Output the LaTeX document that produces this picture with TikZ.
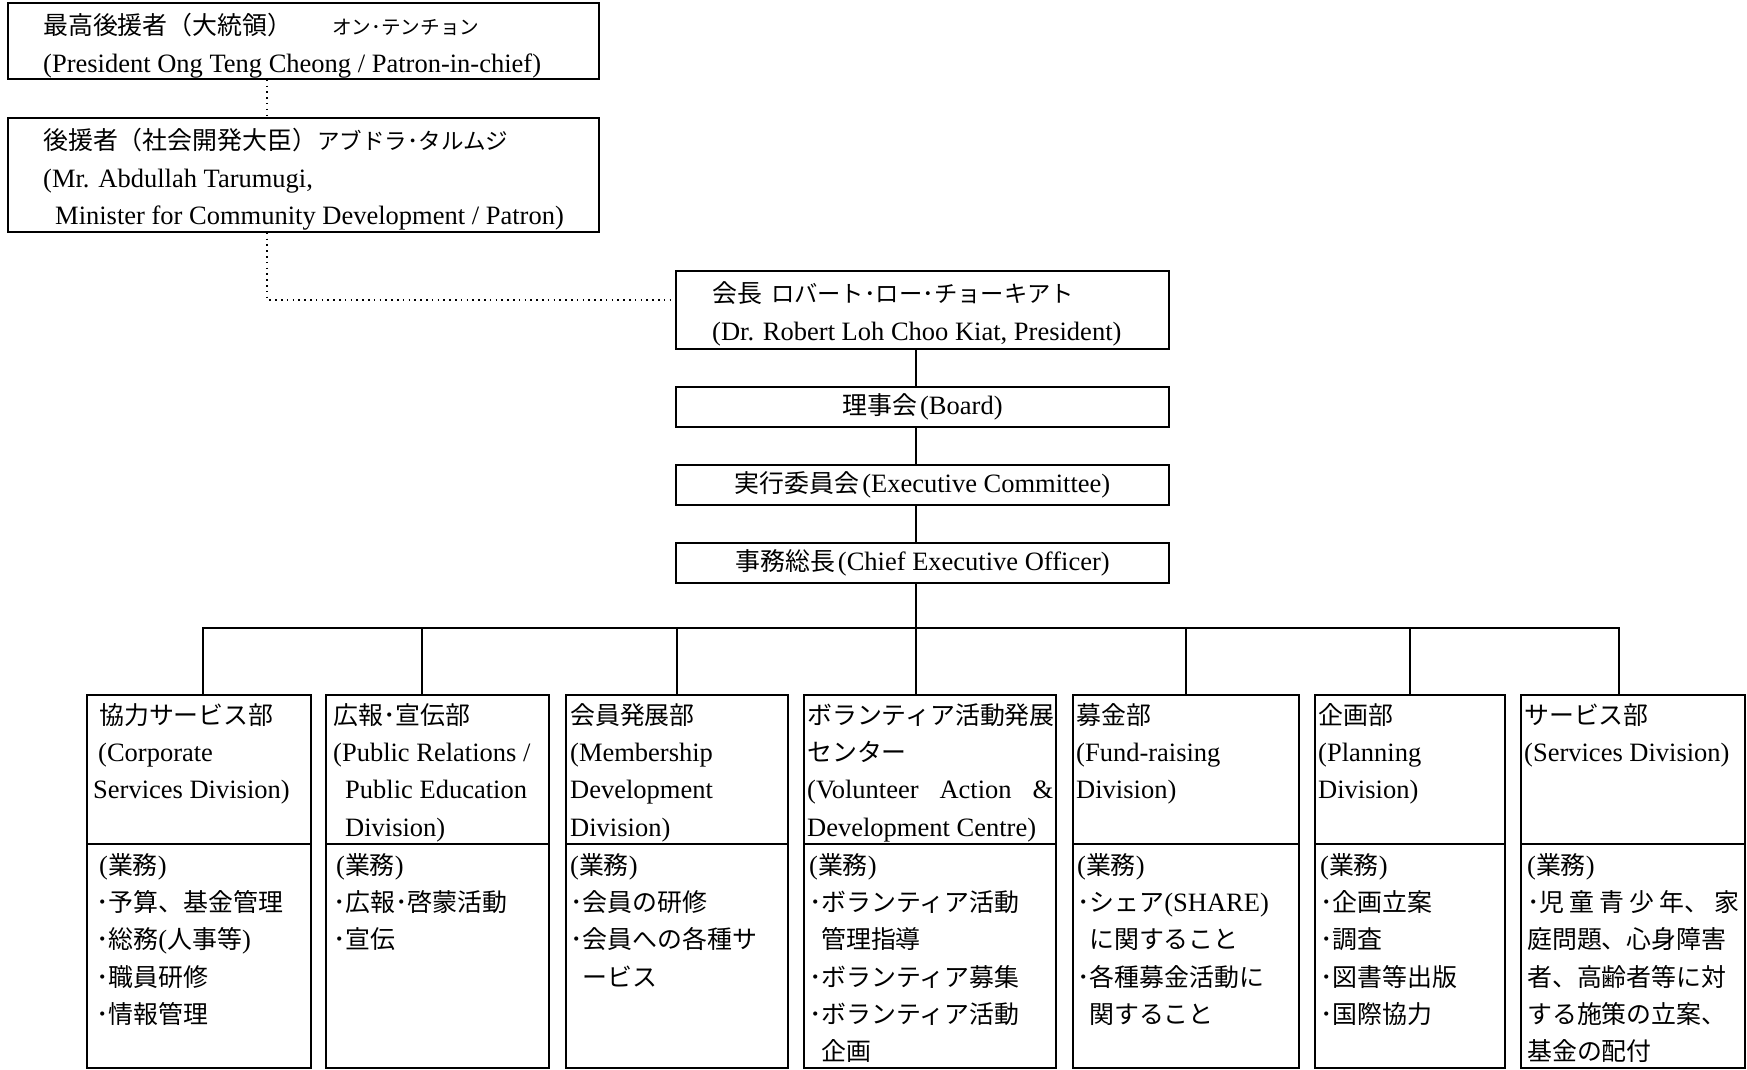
\documentclass[tikz,border=0pt]{standalone}
\usepackage{fontspec}
\setmainfont{Liberation Serif}
\newfontfamily\jp[Scale=0.94]{Noto Sans CJK JP}
\newfontfamily\jpa[Scale=0.74]{Noto Sans CJK JP}
\newfontfamily\jpb[Scale=0.85]{Noto Sans CJK JP}
\newfontfamily\jpc[Scale=0.88]{Noto Sans CJK JP}
\newcommand\J[1]{{\jp #1}}
\newcommand\fst{\rule{0pt}{24pt}}
\newcommand\ind{\hspace*{12pt}}
\begin{document}
\begin{tikzpicture}[x=1pt,y=-1pt,
  font=\fontsize{26.5pt}{37.3pt}\selectfont,
  box/.style={draw, line width=1.6pt, inner sep=0pt, anchor=center},
  txt/.style={inner sep=0pt, anchor=north west, align=left},
  conn/.style={line width=2.2pt},
  dotline/.style={line width=1.5pt, dash pattern=on 1.5pt off 4.3pt}]
\useasboundingbox (0,0) rectangle (1747,1070);
% top boxes
\node[box, minimum width=591pt, minimum height=76pt] (pic) at (303.5,41) {};
\node[txt, font=\fontsize{26.5pt}{38pt}\selectfont] (pict) at (43,10)
  {\fst\J{最高後援者（大統領）}\hspace{40pt}{\jpa オン･テンチョン}\\(President Ong Teng Cheong / Patron-in-chief)};
\node[box, minimum width=591pt, minimum height=114pt] (pat) at (303.5,175) {};
\node[txt, font=\fontsize{26.5pt}{37.5pt}\selectfont] (patt) at (43,125.5)
  {\fst\J{後援者（社会開発大臣）}{\jpb アブドラ･タルムジ}\\(Mr. Abdullah Tarumugi,\\\hspace*{12pt}Minister for Community Development / Patron)};
% chain
\node[box, minimum width=493pt, minimum height=78pt] (pres) at (922.5,310) {};
\node[txt, font=\fontsize{26.5pt}{37.5pt}\selectfont] (prest) at (712,278.5)
  {\fst\J{会長}\hspace{9pt}{\jpc ロバート･ロー･チョーキアト}\\(Dr. Robert Loh Choo Kiat, President)};
\node[box, minimum width=493pt, minimum height=40pt] (board) at (922.5,407) {\J{理事会}\hspace{3pt}(Board)};
\node[box, minimum width=493pt, minimum height=40pt] (exec) at (922.5,485) {\J{実行委員会}\hspace{3pt}(Executive Committee)};
\node[box, minimum width=493pt, minimum height=40pt] (ceo) at (922.5,563) {\J{事務総長}\hspace{3pt}(Chief Executive Officer)};
% bottom boxes: heads (695..844) and bodies (844..1068)
\node[box, minimum width=224pt, minimum height=149pt] (h1) at (199,769.5) {};
\node[box, minimum width=224pt, minimum height=224pt] (d1) at (199,956) {};
\node[box, minimum width=223pt, minimum height=149pt] (h2) at (437.5,769.5) {};
\node[box, minimum width=223pt, minimum height=224pt] (d2) at (437.5,956) {};
\node[box, minimum width=222pt, minimum height=149pt] (h3) at (677,769.5) {};
\node[box, minimum width=222pt, minimum height=224pt] (d3) at (677,956) {};
\node[box, minimum width=252pt, minimum height=149pt] (h4) at (930,769.5) {};
\node[box, minimum width=252pt, minimum height=224pt] (d4) at (930,956) {};
\node[box, minimum width=226pt, minimum height=149pt] (h5) at (1186,769.5) {};
\node[box, minimum width=226pt, minimum height=224pt] (d5) at (1186,956) {};
\node[box, minimum width=190pt, minimum height=149pt] (h6) at (1410,769.5) {};
\node[box, minimum width=190pt, minimum height=224pt] (d6) at (1410,956) {};
\node[box, minimum width=224pt, minimum height=149pt] (h7) at (1633,769.5) {};
\node[box, minimum width=224pt, minimum height=224pt] (d7) at (1633,956) {};
% texts
\node[txt] (h1t) at (93,700) {\fst\hspace*{6pt}\J{協力サービス部}\\\hspace*{5pt}(Corporate\\Services Division)};
\node[txt] (d1t) at (96,850) {\fst\hspace*{3pt}(\J{業務})\\\J{･予算、基金管理}\\\J{･総務}(\J{人事等})\\\J{･職員研修}\\\J{･情報管理}};
\node[txt] (h2t) at (333,700) {\fst\J{広報･宣伝部}\\(Public Relations /\\\ind Public Education\\\ind Division)};
\node[txt] (d2t) at (333,850) {\fst\hspace*{3pt}(\J{業務})\\\J{･広報･啓蒙活動}\\\J{･宣伝}};
\node[txt] (h3t) at (570,700) {\fst\J{会員発展部}\\(Membership\\Development\\Division)};
\node[txt] (d3t) at (570,850) {\fst(\J{業務})\\\J{･会員の研修}\\\J{･会員への各種サ}\\\ind\J{ービス}};
\node[txt] (h4t) at (807,700) {\fst\J{ボランティア活動発展}\\\J{センター}\\\makebox[246pt][s]{(Volunteer Action \&}\\Development Centre)};
\node[txt] (d4t) at (809,850) {\fst(\J{業務})\\\J{･ボランティア活動}\\\ind\J{管理指導}\\\J{･ボランティア募集}\\\J{･ボランティア活動}\\\ind\J{企画}};
\node[txt] (h5t) at (1076,700) {\fst\J{募金部}\\(Fund-raising\\Division)};
\node[txt] (d5t) at (1077,850) {\fst(\J{業務})\\\J{･シェア}(SHARE)\\\ind\J{に関すること}\\\J{･各種募金活動に}\\\ind\J{関すること}};
\node[txt] (h6t) at (1318,700) {\fst\J{企画部}\\(Planning\\Division)};
\node[txt] (d6t) at (1320,850) {\fst(\J{業務})\\\J{･企画立案}\\\J{･調査}\\\J{･図書等出版}\\\J{･国際協力}};
\node[txt] (h7t) at (1524,700) {\fst\J{サービス部}\\(Services Division)};
\node[txt] (d7t) at (1527,850) {\fst(\J{業務})\\\makebox[212pt][s]{\J{･児}\hfil\J{童}\hfil\J{青}\hfil\J{少}\hfil\J{年、}\hfil\J{家}}\\\J{庭問題、心身障害}\\\J{者、高齢者等に対}\\\J{する施策の立案、}\\\J{基金の配付}};
% connectors
\coordinate (cx) at (916,0);
\coordinate (bus) at (916,628);
\coordinate (k1) at (203,628);
\coordinate (k2) at (422,628);
\coordinate (k3) at (677,628);
\coordinate (k5) at (1186,628);
\coordinate (k6) at (1410,628);
\coordinate (k7) at (1619,628);
\draw[conn] (cx |- pres.south) -- (cx |- board.north);
\draw[conn] (cx |- board.south) -- (cx |- exec.north);
\draw[conn] (cx |- exec.south) -- (cx |- ceo.north);
\draw[conn] (cx |- ceo.south) -- (bus) -- (bus |- h4.north);
\draw[conn] (k1 |- h1.north) -- (k1) -- (k7) -- (k7 |- h7.north);
\draw[conn] (k2) -- (k2 |- h2.north);
\draw[conn] (k3) -- (k3 |- h3.north);
\draw[conn] (k5) -- (k5 |- h5.north);
\draw[conn] (k6) -- (k6 |- h6.north);
% dotted patron links
\coordinate (dx) at (267,0);
\coordinate (dy) at (0,300);
\draw[dotline] (dx |- pic.south) -- (dx |- pat.north);
\draw[dotline] (dx |- pat.south) |- (pres.west |- dy);
\end{tikzpicture}
\end{document}
